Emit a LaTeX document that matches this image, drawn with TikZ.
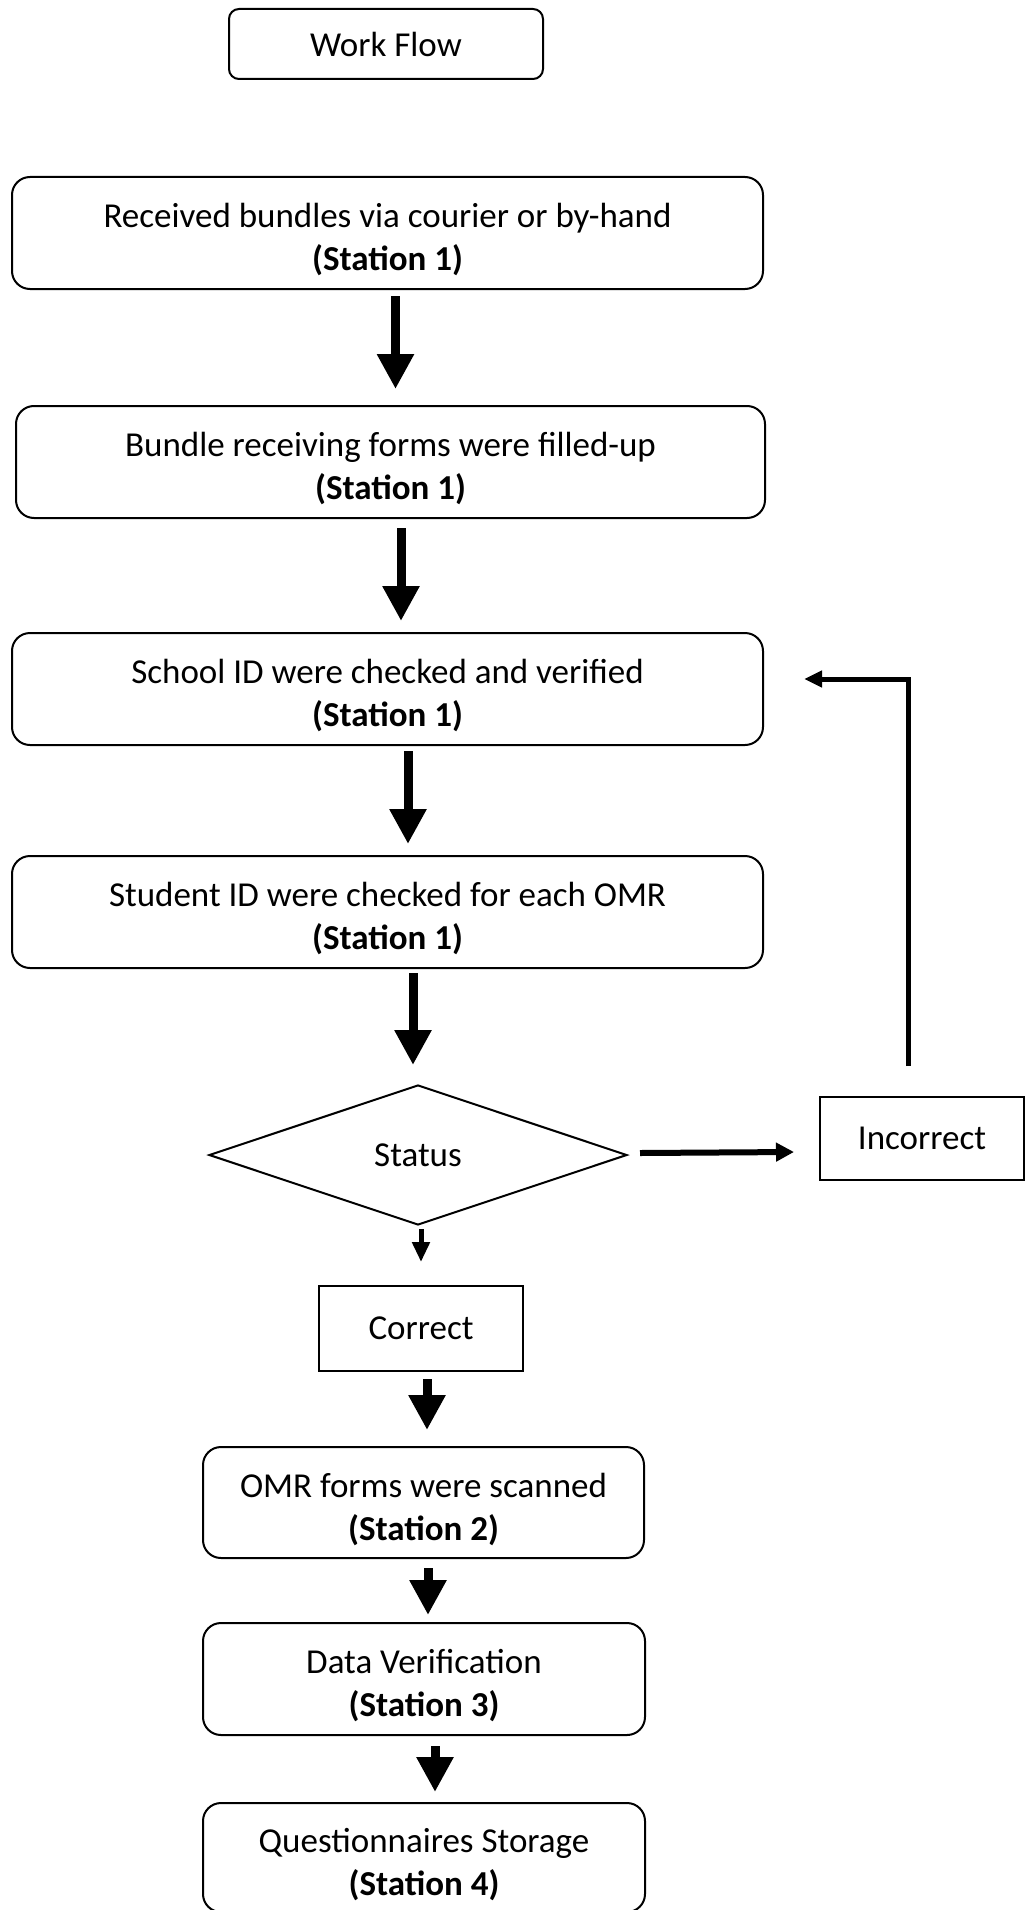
\documentclass[tikz,border=0pt]{standalone}
\usepackage{fontspec}
\setmainfont{Carlito}
\usetikzlibrary{arrows.meta,shapes.geometric,calc}
\newcommand\fstrut{\rule{0pt}{38pt}}
\begin{document}
\begin{tikzpicture}[x=1pt,y=-1pt,
  font=\fontsize{35}{43}\selectfont,
  rbox/.style={draw,line width=2pt,rounded corners=18pt,align=center,inner sep=0pt},
  sbox/.style={draw,line width=2pt,align=center,inner sep=0pt},
  bigarrow/.style={line width=9pt,-{Triangle[length=35pt,width=35pt]}},
  midarrow/.style={line width=6pt,-{Triangle[length=18pt,width=18pt]}},
  smallarrow/.style={line width=5pt,-{Triangle[length=20pt,width=17pt]}},
  fbarrow/.style={line width=5pt,-{Triangle[length=18pt,width=16pt]}}]
\path[use as bounding box] (0,0) rectangle (1025,1910);

\node[rbox,rounded corners=10pt,minimum width=314pt,minimum height=70pt] (wf) at (386,44) {Work Flow};
\node[rbox,minimum width=751pt,minimum height=112pt] (b1) at (387.5,233) {\fstrut Received bundles via courier or by-hand\\\textbf{(Station 1)}};
\node[rbox,minimum width=749pt,minimum height=112pt] (b2) at (390.5,462) {\fstrut Bundle receiving forms were filled-up\\\textbf{(Station 1)}};
\node[rbox,minimum width=751pt,minimum height=112pt] (b3) at (387.5,689) {\fstrut School ID were checked and verified\\\textbf{(Station 1)}};
\node[rbox,minimum width=751pt,minimum height=112pt] (b4) at (387.5,912) {\fstrut Student ID were checked for each OMR\\\textbf{(Station 1)}};
\node[diamond,draw,line width=2pt,inner sep=0pt,aspect=3,minimum width=418pt,minimum height=140pt] (dia) at (418,1155) {Status};
\node[sbox,minimum width=204pt,minimum height=83pt] (inc) at (922,1138.5) {Incorrect};
\node[sbox,minimum width=204pt,minimum height=85pt] (cor) at (421,1328.5) {Correct};
\node[rbox,minimum width=441pt,minimum height=111pt] (omr) at (423.5,1502.5) {\fstrut OMR forms were scanned\\\textbf{(Station 2)}};
\node[rbox,minimum width=442pt,minimum height=112pt] (dat) at (424,1679) {\fstrut Data Verification\\\textbf{(Station 3)}};
\node[rbox,minimum width=442pt,minimum height=109pt] (qs) at (424,1857.5) {\fstrut Questionnaires Storage\\\textbf{(Station 4)}};

\draw[bigarrow] ($(b1.south)+(8,6)$) -- ($(b2.north)+(5,-16)$);
\draw[bigarrow] ($(b2.south)+(10.5,9)$) -- ($(b3.north)+(13.5,-11)$);
\draw[bigarrow] ($(b3.south)+(20.5,5)$) -- ($(b4.north)+(20.5,-11)$);
\draw[bigarrow] ($(b4.south)+(25.5,4)$) -- ($(dia.north)+(-5,-19)$);
\draw[midarrow] ($(dia.east)+(12,-2)$) -- ($(inc.west)+(-25,13.5)$);
\draw[smallarrow] ($(dia.south)+(3,3)$) -- ($(cor.north)+(0,-23)$);
\draw[bigarrow] ($(cor.south)+(6,7)$) -- ($(omr.north)+(3.5,-16)$);
\draw[bigarrow] ($(omr.south)+(4.5,9)$) -- ($(dat.north)+(4,-7)$);
\draw[bigarrow] ($(dat.south)+(11,10)$) -- ($(qs.north)+(11,-10)$);

\coordinate (fbstart) at ($(inc.north)+(-14,-30)$);
\coordinate (fbend) at ($(b3.east)+(40,-10)$);
\draw[fbarrow] (fbstart) |- (fbend);
\end{tikzpicture}
\end{document}
